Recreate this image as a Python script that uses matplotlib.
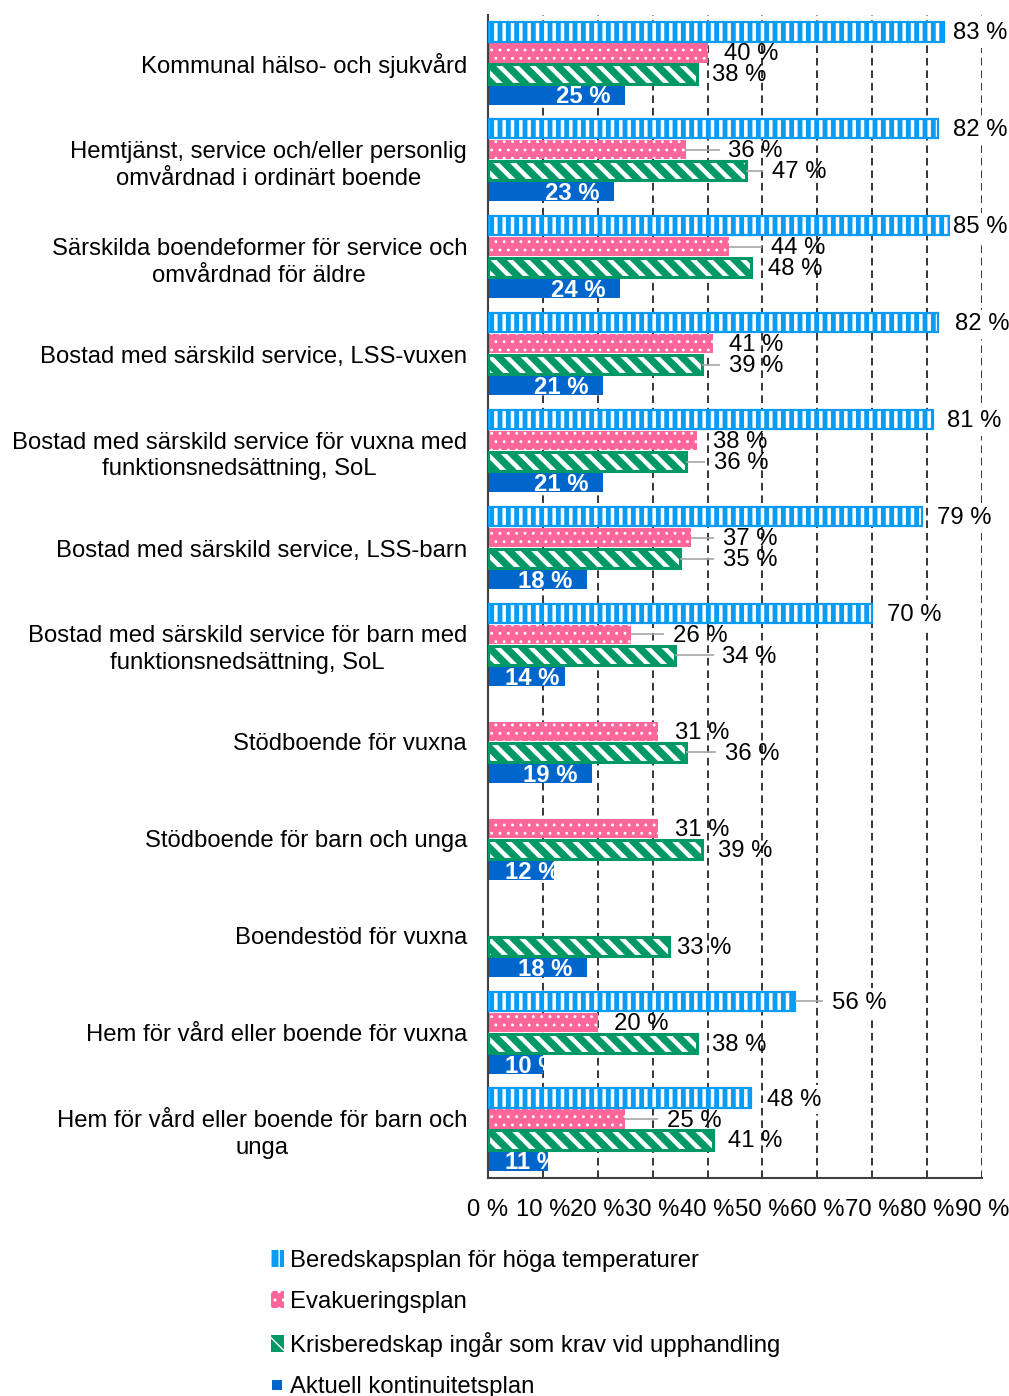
import numpy as np
import matplotlib
matplotlib.use("Agg")
import matplotlib.pyplot as plt
from matplotlib.patches import Patch
from matplotlib.lines import Line2D
from matplotlib.transforms import Bbox, TransformedBbox

plt.rcParams["font.family"] = ["Liberation Sans", "DejaVu Sans"]
plt.rcParams["lines.scale_dashes"] = False

# ---- data -------------------------------------------------------------
categories = [
    "Kommunal hälso- och sjukvård",
    "Hemtjänst, service och/eller personlig\nomvårdnad i ordinärt boende",
    "Särskilda boendeformer för service och\nomvårdnad för äldre",
    "Bostad med särskild service, LSS-vuxen",
    "Bostad med särskild service för vuxna med\nfunktionsnedsättning, SoL",
    "Bostad med särskild service, LSS-barn",
    "Bostad med särskild service för barn med\nfunktionsnedsättning, SoL",
    "Stödboende för vuxna",
    "Stödboende för barn och unga",
    "Boendestöd för vuxna",
    "Hem för vård eller boende för vuxna",
    "Hem för vård eller boende för barn och\nunga",
]
series_names = [
    "Beredskapsplan för höga temperaturer",
    "Evakueringsplan",
    "Krisberedskap ingår som krav vid upphandling",
    "Aktuell kontinuitetsplan",
]
nan = np.nan
beredskapsplan = [83, 82, 85, 82, 81, 79, 70, nan, nan, nan, 56, 48]
evakueringsplan = [40, 36, 44, 41, 38, 37, 26, 31, 31, nan, 20, 25]
krisberedskap = [38, 47, 48, 39, 36, 35, 34, 36, 39, 33, 38, 41]
kontinuitetsplan = [25, 23, 24, 21, 21, 18, 14, 19, 12, 18, 10, 11]
tick_values = [0, 10, 20, 30, 40, 50, 60, 70, 80, 90]
tick_labels = ["0 %", "10 %", "20 %", "30 %", "40 %", "50 %", "60 %", "70 %", "80 %", "90 %"]

# ---- layout / style ---------------------------------------------------
# horizontal distance (percentage points) from bar end to its label
label_gap = [
    [1.8, 2.8, -0.2, 3.0, 2.7, 2.9, 2.7, 0, 0, 0, 6.7, 2.9],
    [3.0, 7.8, 7.6, 2.9, 3.0, 5.8, 7.7, 3.1, 3.1, 0, 3.0, 7.6],
    [2.8, 4.8, 3.0, 4.9, 5.2, 7.8, 8.7, 7.2, 2.9, 1.5, 2.8, 2.8],
]
LIGHT_BLUE = "#0A9BF5"
PINK = "#FF6699"
GREEN = "#009966"
DARK_BLUE = "#0066CC"
styles = [
    dict(face=LIGHT_BLUE, hatch="||", hatch_lw=2.5, outline=LIGHT_BLUE, outline_lw=1.6),
    dict(face=PINK, hatch="..", hatch_lw=0.9, outline=None, outline_lw=0),
    dict(face=GREEN, hatch="\\\\", hatch_lw=3.2, outline=GREEN, outline_lw=2.2),
    dict(face=DARK_BLUE, hatch=None, hatch_lw=0, outline=None, outline_lw=0),
]
FS = 17.2

fig = plt.figure(figsize=(10.09, 13.96), dpi=100)
ax = fig.add_axes([0.4836, 0.15616, 0.4896, 0.8331])

ax.set_xlim(0, 90)
ax.set_ylim(len(categories) - 0.5, -0.5)
ax.set_axisbelow(True)
ax.xaxis.grid(True, color="#262626", linewidth=1.3, linestyle=(0, (5.5, 3.5)))
ax.yaxis.grid(False)

step = 0.2165
bar_h = 0.198
all_series = [beredskapsplan, evakueringsplan, krisberedskap, kontinuitetsplan]


def set_hatch_width(p, lw):
    if hasattr(p, "set_hatch_linewidth"):
        p.set_hatch_linewidth(lw)


legend_handles = []
for s, (vals, st) in enumerate(zip(all_series, styles)):
    for i, v in enumerate(vals):
        if np.isnan(v):
            continue
        y = i + (s - 1.5) * step
        with plt.rc_context({"hatch.linewidth": st["hatch_lw"] or 1.0}):
            if st["hatch"]:
                bars = ax.barh(y, v, height=bar_h, color=st["face"], edgecolor="white",
                               hatch=st["hatch"], linewidth=0, zorder=2)
                set_hatch_width(bars[0], st["hatch_lw"])
            else:
                ax.barh(y, v, height=bar_h, color=st["face"], linewidth=0, zorder=2)
        if st["outline"]:
            ax.barh(y, v, height=bar_h, fill=False, edgecolor=st["outline"],
                    linewidth=st["outline_lw"], zorder=3)

        if s < 3:
            gap = label_gap[s][i]
            lx = v + gap
            if gap > 4:
                ax.plot([v, lx - 1.6], [y, y], color="#A6A6A6", lw=1.2, zorder=4,
                        solid_capstyle="butt")
            kw = {}
            if s == 0:
                kw["bbox"] = dict(facecolor="white", edgecolor="none", pad=2.5)
            ax.text(lx, y + 0.015, f"{v:.0f} %", ha="left", va="center", fontsize=FS,
                    color="black", zorder=5, **kw)
        else:
            lx = max(v - 12.6, 3.1)
            t = ax.text(lx, y + 0.02, f"{v:.0f} %", ha="left", va="center",
                        fontsize=FS, fontweight="bold", color="white", zorder=5,
                        clip_on=True)
            t.set_clip_path(None)
            t.set_clip_box(TransformedBbox(Bbox.from_extents(0, y - bar_h / 2, v, y + bar_h / 2),
                                           ax.transData))

    with plt.rc_context({"hatch.linewidth": st["hatch_lw"] or 1.0}):
        if st["hatch"]:
            h = Patch(facecolor=st["face"], edgecolor="white", hatch=st["hatch"], linewidth=0)
            set_hatch_width(h, st["hatch_lw"])
        else:
            h = Line2D([], [], marker="s", linestyle="none", markersize=6.5,
                       markerfacecolor=st["face"], markeredgewidth=0)
    legend_handles.append(h)

ax.set_yticks(range(len(categories)))
ax.set_yticklabels(categories, fontsize=FS, linespacing=1.28)
for lab in ax.get_yticklabels():
    lab.set_multialignment("center")
ax.set_xticks(tick_values)
ax.set_xticklabels(tick_labels, fontsize=FS)
ax.tick_params(axis="both", length=0)
ax.tick_params(axis="x", pad=15)
ax.tick_params(axis="y", pad=15)

for side in ("top", "right"):
    ax.spines[side].set_visible(False)
for side in ("left", "bottom"):
    ax.spines[side].set_color("#404040")
    ax.spines[side].set_linewidth(1.5)

fig.legend(legend_handles, series_names, loc="upper left",
           bbox_to_anchor=(0.2685, 0.1046), frameon=False, fontsize=FS,
           handlelength=0.55, handleheight=0.7, handletextpad=0.25,
           labelspacing=0.8, borderpad=0, borderaxespad=0)

fig.savefig("out.png", dpi=100)
